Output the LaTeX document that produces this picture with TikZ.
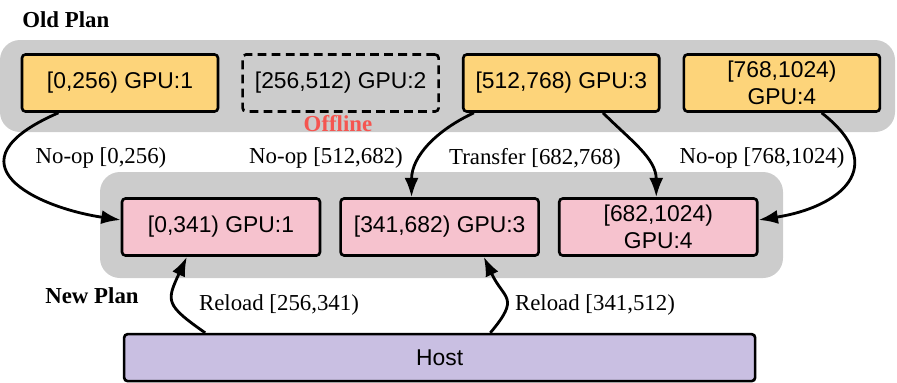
\documentclass[tikz,border=0pt]{standalone}
\usepackage{fontspec}
\setmainfont{Liberation Serif}
\setsansfont{Liberation Sans}
\usepackage{xcolor}
\usepackage{tikz}
\usetikzlibrary{arrows.meta,positioning,calc}
\definecolor{oldyellow}{RGB}{253,212,122}
\definecolor{newpink}{RGB}{246,194,206}
\definecolor{hostpurple}{RGB}{201,191,226}
\definecolor{panelgray}{RGB}{204,204,204}
\definecolor{offred}{RGB}{245,85,80}
\tikzset{
  panel/.style={fill=panelgray, rounded corners=0.4cm},
  oldgpu/.style={draw=black, line width=1.5pt, rounded corners=2pt, fill=oldyellow, minimum width=3.92cm, minimum height=1.14cm, font=\sffamily\fontsize{13}{15}\selectfont, align=center, inner sep=2pt},
  offbox/.style={oldgpu, fill=none, dash pattern=on 5pt off 3pt},
  newgpu/.style={oldgpu, fill=newpink, minimum width=3.96cm},
  hostbox/.style={oldgpu, fill=hostpurple, minimum width=12.62cm, minimum height=0.94cm},
  arr/.style={-{Latex[length=11pt,width=8pt]}, line width=1.6pt},
  lbl/.style={font=\fontsize{13}{15}\selectfont, inner sep=1pt},
  title/.style={font=\bfseries\fontsize{13}{15}\selectfont, inner sep=0pt},
}
\begin{document}
\begin{tikzpicture}
  \useasboundingbox (0,0) rectangle (17.94,-7.64);
  % grey panels
  \fill[panel] (0,-0.8) rectangle (17.9,-2.64);
  \fill[panel] (2.0,-3.44) rectangle (15.66,-5.56);
  \node[title, anchor=west] (oldtitle) at (0.44,-0.4) {Old Plan};
  \node[title, anchor=west] (newtitle) at (0.9,-5.92) {New Plan};
  % old plan
  \node[oldgpu] (o1) at (2.4,-1.66) {[0,256) GPU:1};
  \node[offbox, right=0.44cm of o1] (o2) {[256,512) GPU:2};
  \node[oldgpu, right=0.44cm of o2] (o3) {[512,768) GPU:3};
  \node[oldgpu, right=0.44cm of o3] (o4) {[768,1024)\\GPU:4};
  \node[title, text=offred] (off) at (6.76,-2.48) {Offline};
  % new plan
  \node[newgpu] (n1) at (4.42,-4.54) {[0,341) GPU:1};
  \node[newgpu, right=0.36cm of n1] (n2) {[341,682) GPU:3};
  \node[newgpu, right=0.36cm of n2] (n3) {[682,1024)\\GPU:4};
  \node[hostbox, below=1.52cm of n2] (host) {Host};
  % moves
  \draw[arr] ($(o1.south west)!0.19!(o1.south east)$) .. controls +(-2.3,-1.0) and +(-1.7,0.25) .. ([yshift=4pt]n1.west);
  \draw[arr] ($(o3.south west)!0.06!(o3.south east)$) to[out=205, in=90] ($(n2.north west)!0.36!(n2.north east)$);
  \draw[arr] ($(o3.south west)!0.71!(o3.south east)$) to[out=-45, in=90] ($(n3.north west)!0.49!(n3.north east)$);
  \draw[arr] ($(o4.south west)!0.7!(o4.south east)$) .. controls +(1.4,-1.1) and +(1.6,0.25) .. ([yshift=4pt]n3.east);
  \draw[arr] ($(host.north west)!0.13!(host.north east)$) to[out=145, in=-115, looseness=1.6] ($(n1.south west)!0.33!(n1.south east)$);
  \draw[arr] ($(host.north west)!0.58!(host.north east)$) to[out=50, in=-65, looseness=1.6] ($(n2.south west)!0.72!(n2.south east)$);
  \node[lbl] (l1) at (2.02,-3.17) {No-op [0,256)};
  \node[lbl] (l2) at (6.52,-3.17) {No-op [512,682)};
  \node[lbl] (l3) at (10.7,-3.17) {Transfer [682,768)};
  \node[lbl] (l4) at (15.24,-3.17) {No-op [768,1024)};
  \node[lbl] (l5) at (5.58,-6.1) {Reload [256,341)};
  \node[lbl] (l6) at (11.9,-6.1) {Reload [341,512)};
\end{tikzpicture}
\end{document}
